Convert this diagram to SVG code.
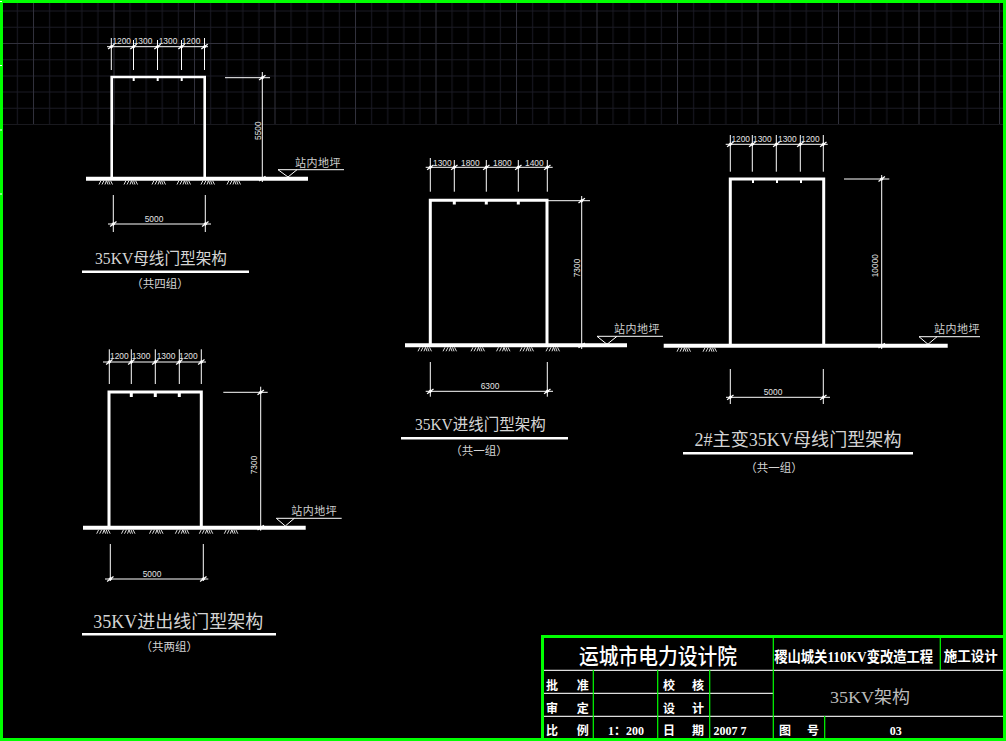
<svg xmlns="http://www.w3.org/2000/svg" xmlns:xlink="http://www.w3.org/1999/xlink" width="1006" height="741" viewBox="0 0 1006 741">
<style>
text{fill:#fff;font-family:"Liberation Sans","Noto Sans CJK SC",sans-serif;text-anchor:middle}
.dim{font-size:8.4px;fill:#e4e4e4}
.lvl{font-size:11px;font-family:"Noto Sans CJK SC",sans-serif;fill:#cfcfcf;letter-spacing:.5px}
.ttl{font-family:"Liberation Serif","Noto Sans CJK SC",serif;fill:#d4d4d4}
.sub{font-size:11.5px;font-family:"Noto Sans CJK SC",sans-serif;fill:#d4d4d4}
.thin{fill:none;stroke:#fff;stroke-width:1}
.fr{fill:none;stroke:#fff;stroke-width:3;stroke-linejoin:miter}
.gnd{stroke:#fff;stroke-width:4;fill:none}
.ul{stroke:#fff;stroke-width:2.5;fill:none}
.g3{stroke:#0f0;stroke-width:3;fill:none}
.g1{stroke:#0f0;stroke-width:1.2;fill:none}
.w1{stroke:#ddd;stroke-width:1.2;fill:none}
.tb{font-family:"Noto Sans CJK SC",sans-serif;font-weight:700;font-size:12px}
</style>
<defs>
<pattern id="grid" patternUnits="userSpaceOnUse" x="33" y="43" width="80.5" height="81">
<path d="M16.6 0V81M32.7 0V81M48.8 0V81M64.9 0V81M0 16.7H80.5M0 32.9H80.5M0 49.1H80.5M0 65.3H80.5" stroke="#1a1a24" stroke-width="1" fill="none"/>
<path d="M.5 0V81M0 .5H80.5" stroke="#31313c" stroke-width="1" fill="none"/>
</pattern>
<g id="tk"><path d="M-2 0L0-2 2 0 0 2Z" fill="#fff"/><path d="M-3.2 2.4L3.2-2.4" stroke="#fff" stroke-width="1.3"/></g>
<path id="h" d="M0 4L2 0M3 4L5 0M6 4L7.5 0M7.5 0L9 4M9.5 0L11 4M11.5 0L13.5 4" stroke="#ddd" stroke-width="1" fill="none"/>
</defs>
<rect width="1006" height="741" fill="#000"/>
<rect id="grid-area" x="3" y="3" width="1000" height="121.5" fill="url(#grid)"/>

<g id="frame-1">
<path class="gnd" d="M86 178.7H308"/>
<path class="fr" d="M111.7 178V77H204.7V178" style="stroke-width:2.6"/>
<path d="M133.7 77V81M157.7 77V81M181.7 77V81" stroke="#fff" stroke-width="2"/>
<path class="thin" d="M107 46.7H208M111.3 38V70M133.5 40V70M157.5 40V70M181.5 40V70M204.5 38V70M262.3 72V182M225 77.7H270M108 224H211M113.3 195V232M205.3 195V232M278 169.7H344M278 169.7L288 177 297 169.7"/>
<use xlink:href="#tk" x="111.3" y="46.7"/><use xlink:href="#tk" x="133.5" y="46.7"/><use xlink:href="#tk" x="157.5" y="46.7"/><use xlink:href="#tk" x="181.5" y="46.7"/><use xlink:href="#tk" x="204.5" y="46.7"/><use xlink:href="#tk" x="262.3" y="77.7"/><use xlink:href="#tk" x="262.3" y="178.7"/><use xlink:href="#tk" x="113.3" y="224"/><use xlink:href="#tk" x="205.3" y="224"/>
<use xlink:href="#h" x="99" y="180.5"/><use xlink:href="#h" x="124" y="180.5"/><use xlink:href="#h" x="152" y="180.5"/><use xlink:href="#h" x="177" y="180.5"/><use xlink:href="#h" x="201" y="180.5"/><use xlink:href="#h" x="227" y="180.5"/>
<text class="dim" x="121.7" y="44">1200</text><text class="dim" x="143" y="44">1300</text><text class="dim" x="168" y="44">1300</text><text class="dim" x="191" y="44">1200</text>
<text class="dim" transform="translate(261 130.7) rotate(-90)">5500</text>
<text class="dim" x="154" y="222">5000</text>
<text class="lvl" x="318" y="166.5">站内地坪</text>
<text class="ttl" x="161" y="263.5" font-size="16" textLength="132" lengthAdjust="spacingAndGlyphs">35KV母线门型架构</text>
<path class="ul" d="M82 271.7H249"/>
<text class="sub" x="160" y="288">（共四组）</text>
</g>

<g id="frame-2">
<path class="gnd" d="M405 345.3H627"/>
<path class="fr" d="M430.3 345V200.3H547V345"/>
<path d="M454.3 200V204.5M486.3 200V204.5M518.3 200V204.5" stroke="#fff" stroke-width="3"/>
<path class="thin" d="M425.7 167.3H552.7M430.3 158V191.7M454.3 160V191.7M486.3 160V191.7M518.3 160V191.7M547.3 160V191.7M581.7 196V349M547 200.7H590M425.7 391.3H553M430.3 362V396.7M547.3 362V396.7M597 336.3H663M597 336.3L607 344.3 617 336.3"/>
<use xlink:href="#tk" x="430.3" y="167.3"/><use xlink:href="#tk" x="454.3" y="167.3"/><use xlink:href="#tk" x="486.3" y="167.3"/><use xlink:href="#tk" x="518.3" y="167.3"/><use xlink:href="#tk" x="547.3" y="167.3"/><use xlink:href="#tk" x="581.7" y="200.7"/><use xlink:href="#tk" x="581.7" y="345.3"/><use xlink:href="#tk" x="430.3" y="391.3"/><use xlink:href="#tk" x="547.3" y="391.3"/>
<use xlink:href="#h" x="418" y="347.3"/><use xlink:href="#h" x="443" y="347.3"/><use xlink:href="#h" x="471" y="347.3"/><use xlink:href="#h" x="496.5" y="347.3"/><use xlink:href="#h" x="520" y="347.3"/><use xlink:href="#h" x="546" y="347.3"/>
<text class="dim" x="442.3" y="165.5">1300</text><text class="dim" x="470.3" y="165.5">1800</text><text class="dim" x="502.3" y="165.5">1800</text><text class="dim" x="534.3" y="165.5">1400</text>
<text class="dim" transform="translate(580 268) rotate(-90)">7300</text>
<text class="dim" x="490" y="389">6300</text>
<text class="lvl" x="637" y="333">站内地坪</text>
<text class="ttl" x="480.4" y="430" font-size="16" textLength="131" lengthAdjust="spacingAndGlyphs">35KV进线门型架构</text>
<path class="ul" d="M401 438.3H568"/>
<text class="sub" x="479" y="455">（共一组）</text>
</g>

<g id="frame-3">
<path class="gnd" d="M663.7 345.7H947.7"/>
<path class="fr" d="M730.3 345V179H823.7V345"/>
<path d="M753 179V183M777 179V183M801 179V183" stroke="#fff" stroke-width="2"/>
<path class="thin" d="M725.7 144.3H827.7M730.3 135V171.7M752.3 135V171.7M776.3 135V171.7M800.3 135V171.7M823.3 135V171.7M881.7 175V349M844 179H889.3M726 397.3H830M730.3 369V404M823.3 369V404M919 336.7H980M919 336.7L928 344.3 937 336.7"/>
<use xlink:href="#tk" x="730.3" y="144.3"/><use xlink:href="#tk" x="752.3" y="144.3"/><use xlink:href="#tk" x="776.3" y="144.3"/><use xlink:href="#tk" x="800.3" y="144.3"/><use xlink:href="#tk" x="823.3" y="144.3"/><use xlink:href="#tk" x="881.7" y="179"/><use xlink:href="#tk" x="881.7" y="345.7"/><use xlink:href="#tk" x="730.3" y="397.3"/><use xlink:href="#tk" x="823.3" y="397.3"/>
<use xlink:href="#h" x="677" y="347.7"/><use xlink:href="#h" x="703" y="347.7"/>
<text class="dim" x="740.7" y="141.7">1200</text><text class="dim" x="762.3" y="141.7">1300</text><text class="dim" x="787.3" y="141.7">1300</text><text class="dim" x="810.3" y="141.7">1200</text>
<text class="dim" transform="translate(878 265.7) rotate(-90)">10000</text>
<text class="dim" x="773" y="395">5000</text>
<text class="lvl" x="957" y="333">站内地坪</text>
<text class="ttl" x="798" y="446" font-size="18" textLength="207" lengthAdjust="spacingAndGlyphs">2#主变35KV母线门型架构</text>
<path class="ul" d="M683 453.3H913"/>
<text class="sub" x="774" y="472">（共一组）</text>
</g>

<g id="frame-4">
<path class="gnd" d="M83 527.7H305.7"/>
<path class="fr" d="M109 527V392H201.3V527"/>
<path d="M131.3 392V397M155.3 392V397M179.3 392V397" stroke="#fff" stroke-width="3"/>
<path class="thin" d="M103 362H206M109.3 349.3V384M131.3 349.3V384M155.3 349.3V384M179.3 349.3V384M201.3 349.3V384M260.7 386.7V530.7M223.3 392.3H267.7M105 579H208.3M110.3 544V580.7M203.3 544V580.7M276.3 518.3H341.7M276.3 518.3L285.3 526 294.3 518.3"/>
<use xlink:href="#tk" x="109.3" y="362"/><use xlink:href="#tk" x="131.3" y="362"/><use xlink:href="#tk" x="155.3" y="362"/><use xlink:href="#tk" x="179.3" y="362"/><use xlink:href="#tk" x="201.3" y="362"/><use xlink:href="#tk" x="260.7" y="392.3"/><use xlink:href="#tk" x="260.7" y="527.7"/><use xlink:href="#tk" x="110.3" y="579"/><use xlink:href="#tk" x="203.3" y="579"/>
<use xlink:href="#h" x="96.7" y="529.7"/><use xlink:href="#h" x="121.5" y="529.7"/><use xlink:href="#h" x="149.5" y="529.7"/><use xlink:href="#h" x="175.3" y="529.7"/><use xlink:href="#h" x="199.3" y="529.7"/><use xlink:href="#h" x="224.3" y="529.7"/>
<text class="dim" x="119.3" y="358.5">1200</text><text class="dim" x="141" y="358.5">1300</text><text class="dim" x="166" y="358.5">1300</text><text class="dim" x="188.3" y="358.5">1200</text>
<text class="dim" transform="translate(256.5 465) rotate(-90)">7300</text>
<text class="dim" x="152" y="576.7">5000</text>
<text class="lvl" x="314.3" y="515">站内地坪</text>
<text class="ttl" x="178.3" y="627.5" font-size="18" textLength="170" lengthAdjust="spacingAndGlyphs">35KV进出线门型架构</text>
<path class="ul" d="M82 634.3H276"/>
<text class="sub" x="169.3" y="651">（共两组）</text>
</g>

<g id="title-block">
<path class="w1" d="M543 670.3H1003M543 693.3H773M543 716.3H1003"/>
<path class="g1" d="M773.3 637V738M940.3 637V670M593.3 670V738M657.7 670V738M709.7 670V738M824.7 716V738"/>
<path class="g3" d="M542.5 738V636.5H1004.5"/>
<text x="658" y="664" font-size="21.5" style="font-family:'Noto Sans CJK SC',sans-serif;font-weight:500" textLength="158" lengthAdjust="spacingAndGlyphs">运城市电力设计院</text>
<text class="tb" x="853.7" y="661.5" style="font-family:'Liberation Serif','Noto Sans CJK SC',serif;font-size:14.5px" textLength="159" lengthAdjust="spacingAndGlyphs">稷山城关110KV变改造工程</text>
<text class="tb" x="970.7" y="661" style="font-size:13.5px">施工设计</text>
<text x="870" y="703" font-size="17" style="font-family:'Liberation Serif','Noto Sans CJK SC',serif;fill:#bbb" textLength="80" lengthAdjust="spacingAndGlyphs">35KV架构</text>
<text class="tb" x="552" y="689.5">批</text><text class="tb" x="582.7" y="689.5">准</text>
<text class="tb" x="552" y="712.5">审</text><text class="tb" x="582.7" y="712.5">定</text>
<text class="tb" x="552" y="735">比</text><text class="tb" x="582.7" y="735">例</text>
<text class="tb" x="669" y="689.5">校</text><text class="tb" x="698" y="689.5">核</text>
<text class="tb" x="669" y="712.5">设</text><text class="tb" x="698" y="712.5">计</text>
<text class="tb" x="669" y="735">日</text><text class="tb" x="698" y="735">期</text>
<text class="tb" x="626" y="735" style="font-family:'Liberation Serif','Noto Sans CJK SC',serif">1：200</text>
<text class="tb" x="730" y="735" style="font-family:'Liberation Serif',serif">2007 7</text>
<text class="tb" x="785" y="735">图</text><text class="tb" x="813" y="735">号</text>
<text class="tb" x="895.7" y="735" style="font-family:'Liberation Serif',serif">03</text>
</g>

<rect id="border" x="1.5" y="1.5" width="1003" height="738" fill="none" stroke="#0f0" stroke-width="3"/>
<path id="edge-ticks" d="M0 1.5H2M0 65.5H2M0 130H2M0 194H2" stroke="#fff" stroke-width="1"/>
</svg>
